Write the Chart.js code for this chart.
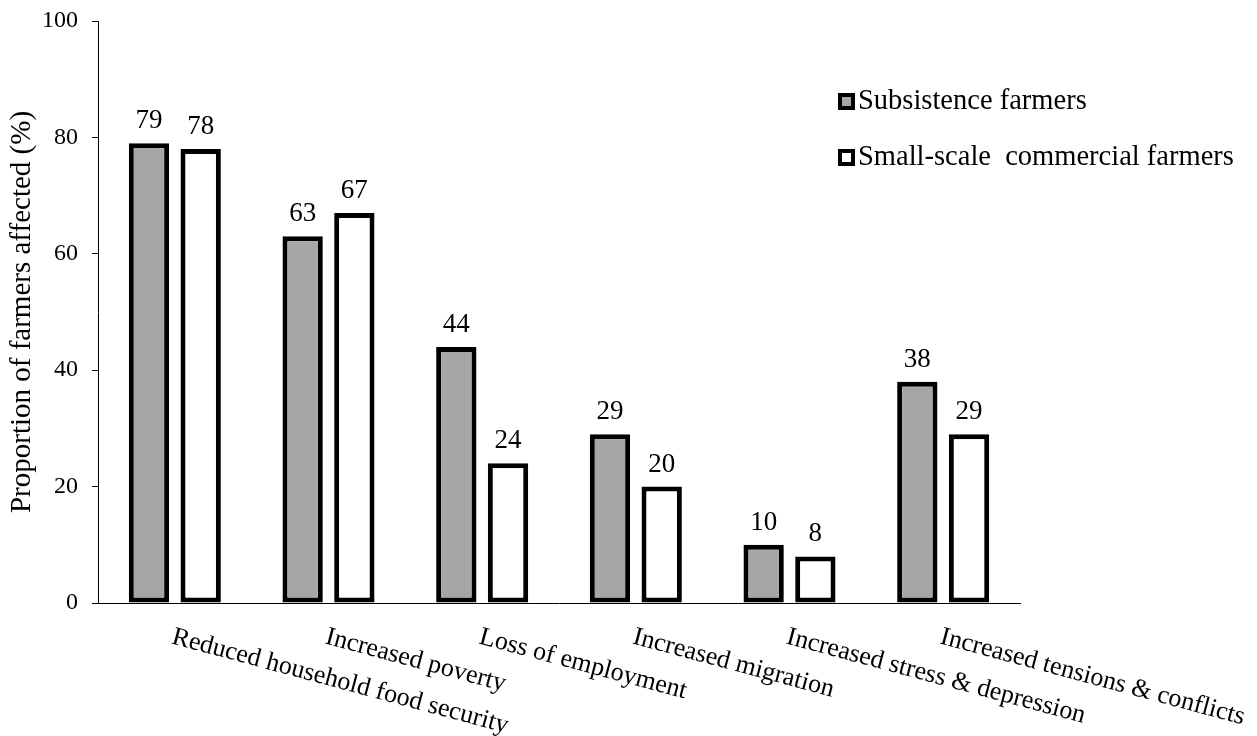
<!DOCTYPE html>
<html>
<head>
<meta charset="utf-8">
<title>Effects on farmers</title>
<script src="https://cdn.jsdelivr.net/npm/chart.js@4.4.1/dist/chart.umd.min.js"></script>
<style>
    html, body { margin: 0; padding: 0; background: #ffffff; }
    canvas { display: block; }
</style>
</head>
<body>
<canvas id="effectsChart" width="1257" height="736"></canvas>
<script>
// Categories and survey results (%)
const categories = [
    "Reduced household food security",
    "Increased poverty",
    "Loss of employment",
    "Increased migration",
    "Increased stress & depression",
    "Increased tensions & conflicts"
];
const subsistence = [79, 63, 44, 29, 10, 38];
const smallScale = [78, 67, 24, 20, 8, 29];
const seriesNames = ["Subsistence farmers", "Small-scale  commercial farmers"];
const seriesFills = ["#a6a6a6", "#ffffff"];

const SERIF = "'Times New Roman', 'Liberation Serif', serif";

// Value labels drawn above each bar
const valueLabels = {
    id: "valueLabels",
    afterDatasetsDraw(chart) {
        const ctx = chart.ctx;
        ctx.save();
        ctx.font = "27px " + SERIF;
        ctx.fillStyle = "#000";
        ctx.textAlign = "center";
        ctx.textBaseline = "alphabetic";
        chart.data.datasets.forEach((ds, i) => {
            chart.getDatasetMeta(i).data.forEach((bar, j) => {
                ctx.fillText(ds.data[j], bar.x, bar.y - 15);
            });
        });
        ctx.restore();
    }
};

// Slanted category labels, starting at each tick and running down to the right
const slantedLabels = {
    id: "slantedLabels",
    afterDraw(chart) {
        const ctx = chart.ctx;
        const xs = chart.scales.x;
        const base = chart.chartArea.bottom;
        ctx.save();
        ctx.font = "26px " + SERIF;
        ctx.fillStyle = "#000";
        ctx.textAlign = "left";
        ctx.textBaseline = "top";
        chart.data.labels.forEach((lab, i) => {
            ctx.save();
            ctx.translate(xs.getPixelForTick(i) + 1, base + 21);
            ctx.rotate(15 * Math.PI / 180);
            ctx.fillText(lab, 0, 0);
            ctx.restore();
        });
        ctx.restore();
    }
};

// Legend in the upper right
const boxLegend = {
    id: "boxLegend",
    afterDraw(chart) {
        const ctx = chart.ctx;
        const rows = [101, 157];
        ctx.save();
        ctx.font = "28.5px " + SERIF;
        ctx.textBaseline = "middle";
        ctx.textAlign = "left";
        seriesNames.forEach((name, i) => {
            const y = rows[i];
            ctx.fillStyle = "#000";
            ctx.fillRect(838, y - 8, 17, 17);
            ctx.fillStyle = seriesFills[i];
            ctx.fillRect(842, y - 4, 9, 9);
            ctx.fillStyle = "#000";
            ctx.fillText(name, 858, y + 1);
        });
        ctx.restore();
    }
};

new Chart(document.getElementById("effectsChart"), {
    type: "bar",
    data: {
        labels: categories,
        datasets: [
            {
                label: seriesNames[0],
                data: subsistence,
                backgroundColor: seriesFills[0],
                borderColor: "#000",
                borderWidth: 5,
                borderSkipped: false
            },
            {
                label: seriesNames[1],
                data: smallScale,
                backgroundColor: seriesFills[1],
                borderColor: "#000",
                borderWidth: 5,
                borderSkipped: false
            }
        ]
    },
    options: {
        responsive: false,
        animation: false,
        events: [],
        layout: { padding: { top: 21, right: 237, bottom: 0, left: 0 } },
        datasets: {
            bar: { categoryPercentage: 0.673, barPercentage: 0.78 }
        },
        plugins: {
            legend: { display: false },
            tooltip: { enabled: false }
        },
        scales: {
            x: {
                grid: { display: false },
                border: { display: true, color: "#000", width: 1 },
                ticks: { display: false },
                afterFit: s => { s.height = 133; }
            },
            y: {
                min: 0,
                max: 100,
                ticks: {
                    stepSize: 20,
                    padding: 14,
                    color: "#000",
                    font: { family: SERIF, size: 24 }
                },
                grid: {
                    drawOnChartArea: false,
                    drawTicks: true,
                    tickLength: 6,
                    color: "#000"
                },
                border: { display: true, color: "#000", width: 1 },
                title: {
                    display: true,
                    text: "Proportion of farmers affected (%)",
                    color: "#000",
                    padding: { top: 5, bottom: 0 },
                    font: { family: SERIF, size: 29 }
                },
                afterFit: s => {
                    s.width = 98;
                    // the 100 label fits inside the top padding
                    s.paddingTop = 0;
                    s.paddingBottom = 0;
                }
            }
        }
    },
    plugins: [valueLabels, slantedLabels, boxLegend]
});
</script>
</body>
</html>
